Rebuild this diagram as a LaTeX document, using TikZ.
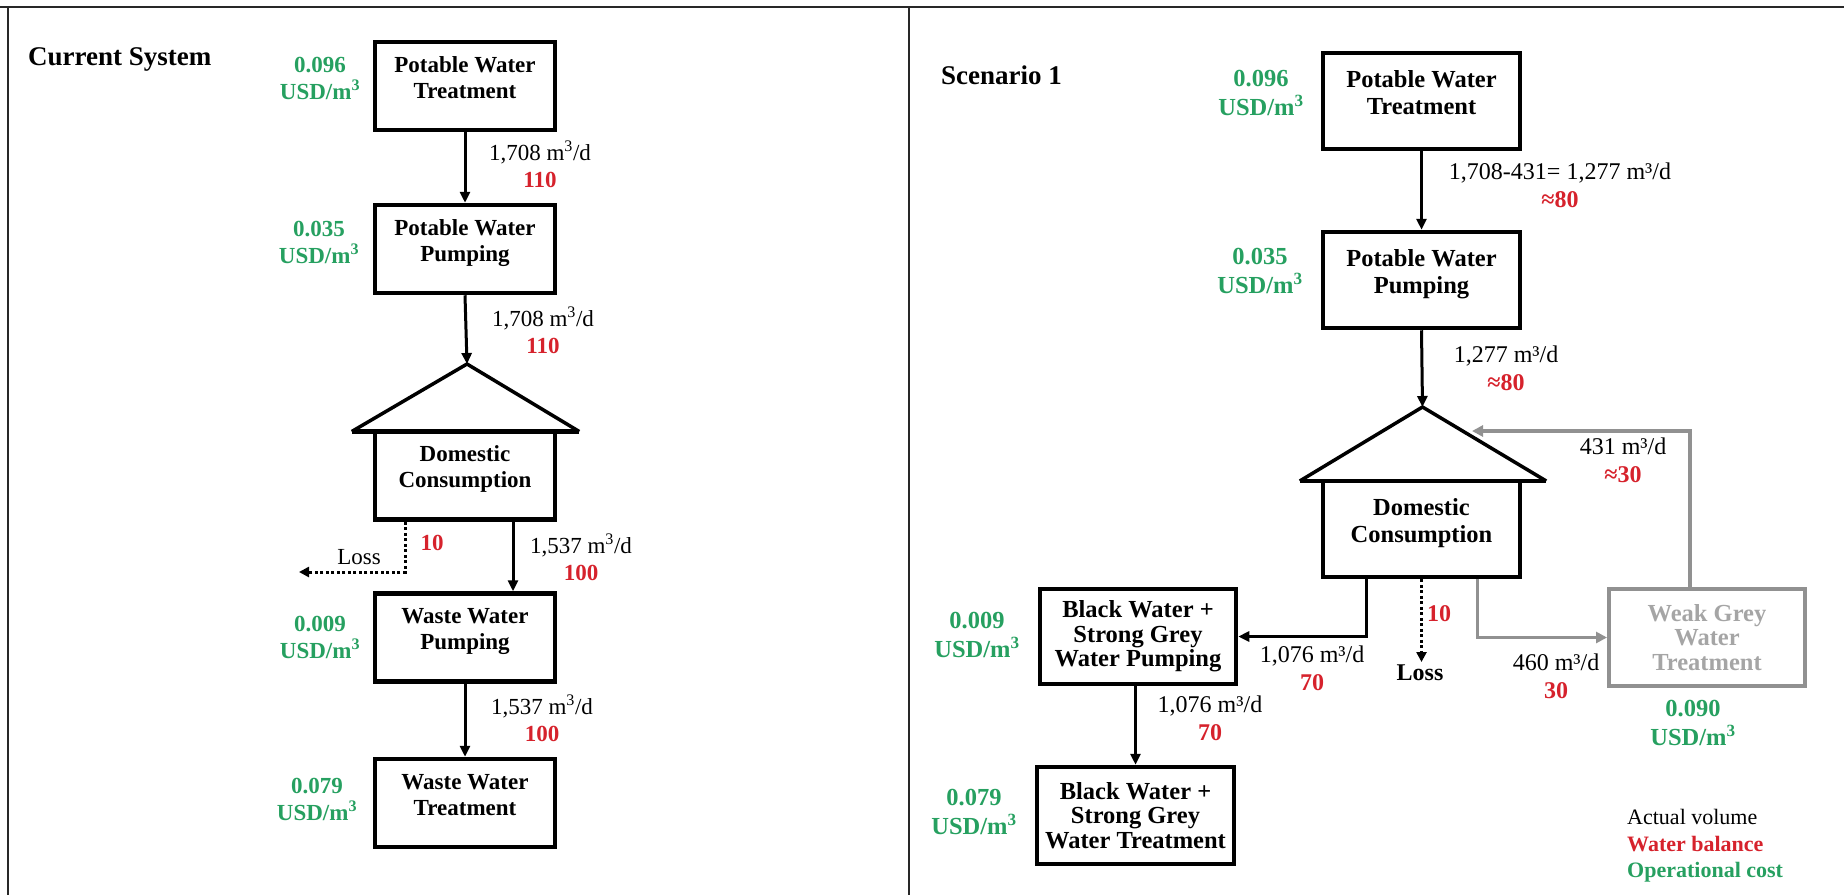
\documentclass[tikz,border=0pt]{standalone}
\usepackage{fontspec}
\setmainfont{Liberation Serif}
\usetikzlibrary{arrows.meta}

\definecolor{costgreen}{RGB}{38,160,96}
\definecolor{balred}{RGB}{214,34,44}
\definecolor{greyline}{RGB}{145,145,145}
\definecolor{greytext}{RGB}{165,165,165}
\definecolor{framegrey}{RGB}{40,40,40}

\newcommand{\bal}[1]{\textcolor{balred}{\bfseries #1}}
\newcommand{\cubm}{m\textsuperscript{3}}

\tikzset{
  frameline/.style={draw=framegrey, line width=2pt},
  procL/.style={draw, line width=4.5pt, minimum width=180pt, minimum height=88pt,
    inner sep=0pt, align=center, font=\fontsize{23}{26}\selectfont\bfseries},
  procR/.style={draw, line width=4.5pt, minimum width=197pt, minimum height=96pt,
    inner sep=0pt, align=center, font=\fontsize{24.5}{27.5}\selectfont\bfseries},
  tallbox/.style={font=\fontsize{24.5}{24.5}\selectfont\bfseries},
  lift/.style={execute at end node={\rule[-17pt]{0pt}{17pt}}},
  costL/.style={text=costgreen, align=center, inner sep=0pt,
    font=\fontsize{23}{27}\selectfont\bfseries},
  costR/.style={text=costgreen, align=center, inner sep=0pt,
    font=\fontsize{24.5}{29}\selectfont\bfseries},
  flowL/.style={align=center, inner sep=0pt, font=\fontsize{23}{27}\selectfont},
  flowR/.style={align=center, inner sep=0pt, font=\fontsize{24}{28}\selectfont},
  heading/.style={anchor=west, inner sep=0pt, font=\fontsize{27}{30}\selectfont\bfseries},
  legend/.style={anchor=west, inner sep=0pt, font=\fontsize{22}{26}\selectfont},
  flowarrow/.style={draw, line width=3pt, -{Triangle[length=11pt,width=10pt]}},
  lossarrow/.style={draw, line width=3pt, dash pattern=on 3pt off 2.5pt,
    -{Triangle[length=10pt,width=10pt]}},
  greyarrow/.style={draw=greyline, line width=3.5pt,
    -{Triangle[length=11pt,width=11pt]}},
  roofline/.style={draw, line width=3.5pt, line join=miter},
  roofbase/.style={draw, line width=4.5pt},
}

\begin{document}
\begin{tikzpicture}[x=1pt,y=-1pt]
\useasboundingbox (0,0) rectangle (1844,895);

% panel frame
\draw[frameline] (0,7) -- (1844,7);
\draw[frameline] (8,7) -- (8,895);
\draw[frameline] (909,7) -- (909,895);

% ---------------- current system ----------------
\node[heading] (title1) at (28,59) {Current System};

\node[procL, lift] (pwt1) at (465,86) {Potable Water\\Treatment};
\node[procL, lift] (pwp1) at (465,249) {Potable Water\\Pumping};
\node[procL, lift] (dc1) at (465,475.5) {Domestic\\Consumption};
\node[procL, lift] (wwp1) at (465,637.5) {Waste Water\\Pumping};
\node[procL, lift] (wwt1) at (465,803) {Waste Water\\Treatment};

% house roof over domestic consumption
\coordinate (apex1) at (467,364);
\coordinate (roofL1) at ([xshift=-21pt, yshift=-2.25pt]dc1.north west);
\coordinate (roofR1) at ([xshift=22pt, yshift=-2.25pt]dc1.north east);
\draw[roofline] (roofL1) -- (apex1) -- (roofR1);
\draw[roofbase] (roofL1) -- (roofR1);

\node[costL] (cost1a) at (320,78.5) {0.096\\USD/\cubm};
\node[costL] (cost1b) at (319,242.5) {0.035\\USD/\cubm};
\node[costL] (cost1c) at (320,637) {0.009\\USD/\cubm};
\node[costL] (cost1d) at (317,799) {0.079\\USD/\cubm};

\draw[flowarrow] (pwt1) -- (pwp1);
\draw[flowarrow] (pwp1.south) -- (apex1);
\coordinate (lossL) at (299,572);
\draw[lossarrow] ([xshift=-60pt]dc1.south) |- (lossL);
\draw[flowarrow] ([xshift=48pt]dc1.south) -- ([xshift=48pt]wwp1.north);
\draw[flowarrow] (wwp1) -- (wwt1);

\node[flowL] (flow1a) at (540,164.5) {1,708 \cubm/d\\\bal{110}};
\node[flowL] (flow1b) at (543,330) {1,708 \cubm/d\\\bal{110}};
\node[flowL] (flow1c) at (581,557) {1,537 \cubm/d\\\bal{100}};
\node[flowL] (flow1d) at (542,718) {1,537 \cubm/d\\\bal{100}};
\node[flowL] (loss1) at (359,557) {Loss};
\node[flowL] (lossval1) at (432,543) {\bal{10}};

% ---------------- scenario 1 ----------------
\node[heading] (title2) at (941,75) {Scenario 1};

\node[procR, lift] (pwt2) at (1421.5,101) {Potable Water\\Treatment};
\node[procR, lift] (pwp2) at (1421.5,280) {Potable Water\\Pumping};
\node[procR, lift] (dc2) at (1421.5,529) {Domestic\\Consumption};
\node[procR, tallbox, minimum width=196pt, minimum height=95pt] (bwp) at (1138,636.5)
  {Black Water +\\Strong Grey\\Water Pumping};
\node[procR, tallbox, minimum width=197pt, minimum height=97pt] (bwt) at (1135.5,815.5)
  {Black Water +\\Strong Grey\\Water Treatment};
\node[procR, tallbox, draw=greyline, line width=4pt, text=greytext,
  minimum width=196pt, minimum height=97pt] (wgt) at (1707,637.5)
  {Weak Grey\\Water\\Treatment};

% house roof over domestic consumption
\coordinate (apex2) at (1422.5,407);
\coordinate (roofL2) at ([xshift=-21pt, yshift=-2.25pt]dc2.north west);
\coordinate (roofR2) at ([xshift=24pt, yshift=-2.25pt]dc2.north east);
\draw[roofline] (roofL2) -- (apex2) -- (roofR2);
\draw[roofbase] (roofL2) -- (roofR2);

\node[costR] (cost2a) at (1261,92.5) {0.096\\USD/\cubm};
\node[costR] (cost2b) at (1260,270.5) {0.035\\USD/\cubm};
\node[costR] (cost2c) at (977,635) {0.009\\USD/\cubm};
\node[costR] (cost2d) at (974,811.5) {0.079\\USD/\cubm};
\node[costR] (cost2e) at (1693,722.5) {0.090\\USD/\cubm};

\draw[flowarrow] (pwt2) -- (pwp2);
\draw[flowarrow] (pwp2.south) -- (apex2);
\draw[flowarrow] ([xshift=-55pt]dc2.south) |- (bwp.east);
\coordinate (lossR) at (1421.5,662);
\draw[lossarrow] (dc2.south) -- (lossR);
\draw[greyarrow] ([xshift=56pt]dc2.south) |- (wgt.west);
\coordinate (fbtip) at (1472,431);
\draw[greyarrow] ([xshift=-17pt]wgt.north) |- (fbtip);
\draw[flowarrow] (bwt.north |- bwp.south) -- (bwt.north);

\node[flowR] (flow2a) at (1560,185.5) {1,708-431= 1,277 m³/d\\\bal{≈80}};
\node[flowR] (flow2b) at (1506,368) {1,277 m³/d\\\bal{≈80}};
\node[flowR] (flow2c) at (1623,460.5) {431 m³/d\\\bal{≈30}};
\node[flowR] (flow2d) at (1312,668) {1,076 m³/d\\\bal{70}};
\node[flowR] (flow2e) at (1556,676.5) {460 m³/d\\\bal{30}};
\node[flowR] (flow2f) at (1210,718.5) {1,076 m³/d\\\bal{70}};
\node[flowR, anchor=west] (lossval2) at (1427,614) {\bal{10}};
\node[flowR, font=\fontsize{24}{28}\selectfont\bfseries] (loss2) at (1420,673) {Loss};

% key
\node[legend] (key1) at (1627,817) {Actual volume};
\node[legend, text=balred, font=\fontsize{22}{26}\selectfont\bfseries] (key2) at (1627,844) {Water balance};
\node[legend, text=costgreen, font=\fontsize{22}{26}\selectfont\bfseries] (key3) at (1627,872) {Operational cost};
\end{tikzpicture}
\end{document}
